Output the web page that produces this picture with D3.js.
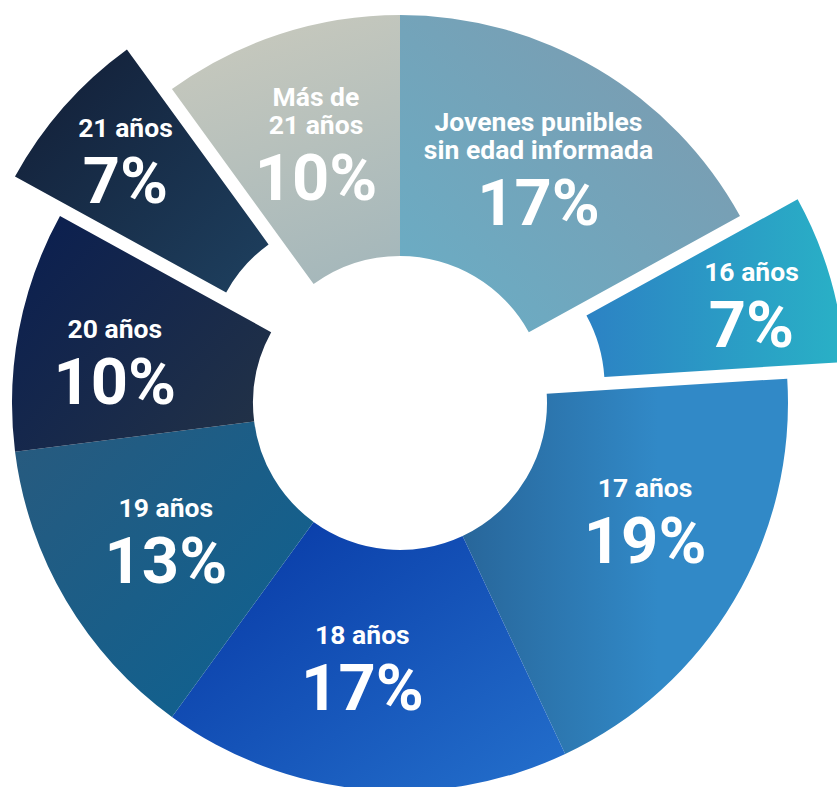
<!DOCTYPE html>
<html>
<head>
<meta charset="utf-8">
<script src="https://cdn.jsdelivr.net/npm/d3@7"></script>
<style>
  html, body { margin: 0; padding: 0; background: #fff; }
  svg { display: block; }
  text { font-family: Roboto, "Noto Sans", sans-serif; fill: #fff; font-weight: 700; }
</style>
</head>
<body>
<div id="chart"></div>
<script>
// data, clockwise from 12 o'clock
const categories = ["Jovenes punibles sin edad informada", "16 años", "17 años", "18 años", "19 años", "20 años", "21 años", "Más de 21 años"];
const labelLines = [["Jovenes punibles", "sin edad informada"], ["16 años"], ["17 años"], ["18 años"], ["19 años"], ["20 años"], ["21 años"], ["Más de", "21 años"]];
const shares = [17, 7, 19, 17, 13, 10, 7, 10];

// styles (gradient start/end and direction per slice)
const gradients = {
  "Jovenes punibles sin edad informada": { from: "#69aec6", to: "#7e99ad", x1: 0, y1: 1, x2: 1, y2: 0 },
  "16 años": { from: "#2c82c4", to: "#29b1c6", x1: 0, y1: 0.5, x2: 1, y2: 0.5 },
  "17 años": { from: "#28669a", to: "#3189c7", x1: 0, y1: 0.5, x2: 0.6, y2: 0.5 },
  "18 años": { from: "#0636a4", to: "#2470cc", x1: 0, y1: 0, x2: 1, y2: 1 },
  "19 años": { from: "#285a7e", to: "#0c6292", x1: 0, y1: 0, x2: 1, y2: 1 },
  "20 años": { from: "#0a1e50", to: "#213147", x1: 0, y1: 0, x2: 1, y2: 0.8 },
  "21 años": { from: "#121d35", to: "#1e405f", x1: 0, y1: 0, x2: 1, y2: 1 },
  "Más de 21 años": { from: "#c8c9bd", to: "#a6b8bb", x1: 0.3, y1: 0, x2: 0.6, y2: 1 }
};
const exploded = new Set(["16 años", "21 años"]);
// small hand nudges of the label blocks, as in the original layout
const labelNudge = {
  "17 años": [11, -20],
  "18 años": [-12, -6],
  "20 años": [-18, 10],
  "16 años": [0, 4]
};

const width = 837;
const height = 787;
const cx = 400, cy = 403;
const innerR = 147, outerR = 388;
const explodeDist = 60;
const labelR = 272, labelRExploded = 306;

const rows = categories.map((c, i) => ({ name: c, lines: labelLines[i], value: shares[i] }));

const svg = d3.select("#chart")
  .append("svg")
  .attr("width", width)
  .attr("height", height)
  .attr("viewBox", `0 0 ${width} ${height}`);

const defs = svg.append("defs");
categories.forEach((c, i) => {
  const g = gradients[c];
  const lg = defs.append("linearGradient")
    .attr("id", `grad${i}`)
    .attr("x1", g.x1).attr("y1", g.y1)
    .attr("x2", g.x2).attr("y2", g.y2);
  lg.append("stop").attr("offset", 0).attr("stop-color", g.from);
  lg.append("stop").attr("offset", 1).attr("stop-color", g.to);
});

const pie = d3.pie().sort(null).value((d) => d.value);
const arc = d3.arc().innerRadius(innerR).outerRadius(outerR);
const arcs = pie(rows);

const mid = (d) => (d.startAngle + d.endAngle) / 2;
const shift = (d) => (exploded.has(d.data.name) ? explodeDist : 0);

const root = svg.append("g").attr("transform", `translate(${cx},${cy})`);

root.selectAll("path.slice")
  .data(arcs)
  .join("path")
  .attr("class", "slice")
  .attr("d", arc)
  .attr("fill", (d, i) => `url(#grad${i})`)
  .attr("transform", (d) => {
    const a = mid(d), s = shift(d);
    return `translate(${Math.sin(a) * s},${-Math.cos(a) * s})`;
  });

const labels = root.selectAll("g.label")
  .data(arcs)
  .join("g")
  .attr("class", "label")
  .attr("transform", (d) => {
    const a = mid(d);
    const r = exploded.has(d.data.name) ? labelRExploded + explodeDist : labelR;
    const [nx, ny] = labelNudge[d.data.name] || [0, 0];
    return `translate(${Math.sin(a) * r + nx},${-Math.cos(a) * r + ny})`;
  });

const lineGap = 28, pctGap = 66;
labels.each(function (d) {
  const g = d3.select(this);
  const n = d.data.lines.length;
  const blockH = 18 + lineGap * (n - 1) + pctGap;
  const first = -blockH / 2 + 18;
  d.data.lines.forEach((t, k) => {
    g.append("text")
      .attr("text-anchor", "middle")
      .attr("y", first + k * lineGap)
      .style("font-size", "26.5px")
      .text(t);
  });
  g.append("text")
    .attr("text-anchor", "middle")
    .attr("y", first + (n - 1) * lineGap + pctGap)
    .style("font-size", "65px")
    .text(`${d.data.value}%`);
});
</script>
</body>
</html>
